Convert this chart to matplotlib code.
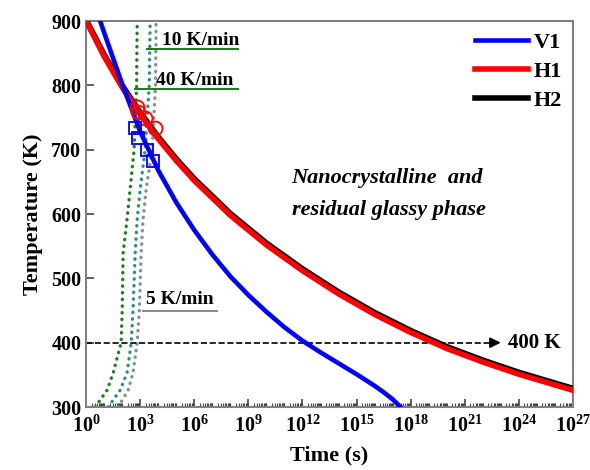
import matplotlib
matplotlib.use("Agg")
import numpy as np
import matplotlib.pyplot as plt
from matplotlib.ticker import FixedLocator, FuncFormatter, NullFormatter

plt.rcParams['font.family'] = ['Liberation Serif', 'DejaVu Serif']
plt.rcParams['font.weight'] = 'bold'
plt.rcParams['axes.labelweight'] = 'bold'
plt.rcParams['mathtext.fontset'] = 'custom'
plt.rcParams['mathtext.rm'] = 'Liberation Serif:bold'
plt.rcParams['mathtext.bf'] = 'Liberation Serif:bold'

# cooling curves, log10(time / s) vs temperature (K)
v1_logt = [0.78, 1, 2, 3, 4, 5, 6, 7, 8, 9, 10, 11, 12, 13, 14, 15, 16, 16.5, 17, 17.4]
v1_temp = [900, 882, 802, 728, 668, 618, 575, 537, 503, 474, 448, 424, 403, 385, 368, 351, 333, 323, 312, 301]

h1_logt = [0, 1, 2, 3, 4, 5, 6, 8, 10, 12, 14, 16, 18, 20, 22, 24, 27]
h1_temp = [900, 845, 797, 755, 717, 683, 652, 598, 552, 512, 476, 444, 416, 391, 370, 351, 326]
h2_temp = [902, 848, 800, 758, 720, 686, 655, 601, 555, 515, 479, 447, 419, 394, 373, 354, 329]

# heating curves (dotted)
heat_temp = [300, 326, 353, 400, 450, 539, 592, 639, 700, 800, 900]
green_logt = [0.5, 1.16, 1.5, 1.94, 2.0, 2.05, 2.27, 2.44, 2.66, 2.8, 2.83]
teal_logt = [1.22, 1.88, 2.27, 2.5, 2.6, 2.72, 2.83, 3.0, 3.27, 3.5, 3.55]
gray_logt = [1.77, 2.33, 2.6, 2.83, 2.95, 3.05, 3.16, 3.33, 3.66, 3.85, 3.88]

# onset markers
h1_mark_logt = [2.83, 2.88, 3.27, 3.82]
h1_mark_temp = [766, 758, 750, 734]
v1_mark_logt = [2.72, 2.88, 3.38, 3.71]
v1_mark_temp = [734, 718, 699, 682]

fig = plt.figure(figsize=(5.9, 4.7), dpi=100)
ax = fig.add_axes([0.146, 0.134, 0.825, 0.821])

dot_style = dict(linestyle=(0, (0.1, 1.9)), dash_capstyle='round', lw=2.4)
ax.plot(10.0 ** np.array(green_logt), heat_temp, color='#1e7d1e', **dot_style)
ax.plot(10.0 ** np.array(teal_logt), heat_temp, color='#2b8c8c', **dot_style)
ax.plot(10.0 ** np.array(gray_logt), heat_temp, color='#8c8c8c', **dot_style)

ax.plot(10.0 ** np.array(h1_logt), h2_temp, color='black', lw=4, label='H2', zorder=3)
ax.plot(10.0 ** np.array(h1_logt), h1_temp, color='red', lw=4, label='H1', zorder=4)
ax.plot(10.0 ** np.array(v1_logt), v1_temp, color='blue', lw=3.3, label='V1', zorder=4)

ax.plot(10.0 ** np.array(h1_mark_logt), h1_mark_temp, 'o', ms=10, mfc='none', mec='red', mew=1.3, zorder=5)
ax.plot(10.0 ** np.array(v1_mark_logt), v1_mark_temp, 's', ms=9, mfc='none', mec='blue', mew=1.3, zorder=5)

# 400 K guide
ax.plot([1, 10 ** 22.6], [400, 400], '--', color='black', lw=1.2, zorder=2)
ax.annotate('', xy=(10 ** 23.15, 400), xytext=(10 ** 22.4, 400),
            arrowprops=dict(arrowstyle='-|>', color='black', lw=1.2, mutation_scale=16))
ax.text(10 ** 23.4, 400, '400 K', fontsize=15, va='center', ha='left')

# rate labels with underline
ax.text(10 ** 4.2, 870, '10 K/min', fontsize=14, va='center', ha='left')
ax.plot([10 ** 3.4, 10 ** 8.4], [856, 856], color='#1e7d1e', lw=1.5)
ax.text(10 ** 3.9, 808, '40 K/min', fontsize=14, va='center', ha='left')
ax.plot([10 ** 2.7, 10 ** 8.4], [794, 794], color='#1e7d1e', lw=1.5)
ax.text(10 ** 3.3, 467, '5 K/min', fontsize=14, va='center', ha='left')
ax.plot([10 ** 3.16, 10 ** 7.26], [449, 449], color='#8c8c8c', lw=1.5)

ax.text(10 ** 11.4, 656, 'Nanocrystalline  and', fontsize=16, style='italic', va='center', ha='left')
ax.text(10 ** 11.4, 606, 'residual glassy phase', fontsize=16, style='italic', va='center', ha='left')

ax.set_xscale('log')
ax.set_xlim(1, 1e27)
ax.set_ylim(300, 900)
ax.xaxis.set_major_locator(FixedLocator([10.0 ** k for k in range(0, 28, 3)]))
ax.xaxis.set_major_formatter(FuncFormatter(lambda v, p: r'$10^{%d}$' % round(np.log10(v))))
ax.xaxis.set_minor_locator(FixedLocator([m * 10.0 ** k for k in range(27) for m in range(1, 10)]))
ax.xaxis.set_minor_formatter(NullFormatter())
ax.set_yticks([300, 400, 500, 600, 700, 800, 900])

ax.tick_params(axis='both', which='major', direction='in', length=6, width=1.2,
               labelsize=14.5, color='#444444', top=False, right=False)
ax.tick_params(axis='x', which='minor', direction='in', length=3, width=0.8, color='#444444', top=False)
ax.tick_params(axis='x', which='major', pad=6)

for s in ax.spines.values():
    s.set_color('#808080')
    s.set_linewidth(1.5)

ax.set_xlabel('Time (s)', fontsize=16, labelpad=6)
ax.set_ylabel('Temperature (K)', fontsize=16, labelpad=6)

handles, labels = ax.get_legend_handles_labels()
order = [2, 1, 0]
ax.legend([handles[i] for i in order], [labels[i] for i in order], loc='upper right',
          frameon=False, fontsize=16, handlelength=2.4, handletextpad=0.25,
          labelspacing=0.38, borderaxespad=0.1)

fig.savefig('out.png', dpi=100)
